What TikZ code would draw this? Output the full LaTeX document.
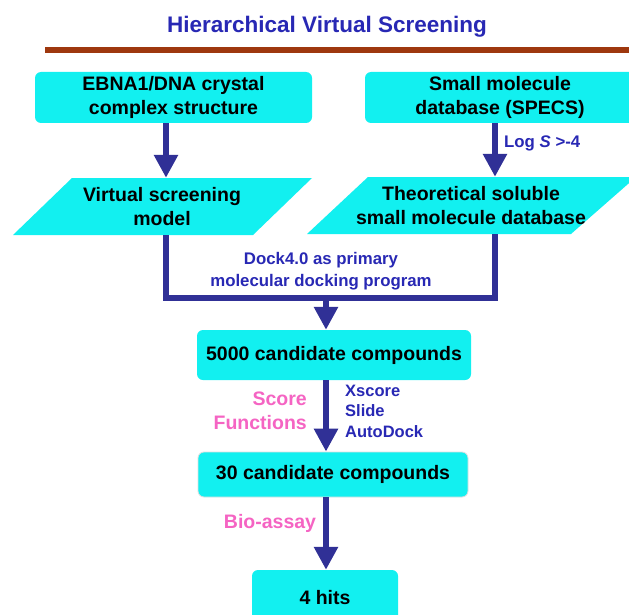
\documentclass[tikz,border=0pt]{standalone}
\usepackage{fontspec}
\setmainfont{Liberation Sans}
\usetikzlibrary{arrows.meta}

\definecolor{boxcyan}{RGB}{18,240,240}
\definecolor{flownavy}{RGB}{48,48,150}
\definecolor{labelblue}{RGB}{40,40,180}
\definecolor{rulebrown}{RGB}{158,56,14}
\definecolor{notepink}{RGB}{245,100,195}

\tikzset{
  x=1pt, y=-1pt,
  stagebox/.style={fill=boxcyan, rounded corners=6pt, inner sep=0pt,
    font=\fontsize{19.5}{24}\selectfont\bfseries, text=black, align=center},
  slantlabel/.style={inner sep=0pt, minimum height=57pt,
    font=\fontsize{19.5}{24}\selectfont\bfseries, text=black, align=center},
  flowline/.style={draw=flownavy, line width=6pt},
  flowarrow/.style={flowline, -{Triangle[length=23pt,width=23pt]}},
  bluenote/.style={inner sep=0pt, text=labelblue, font=\fontsize{16.8}{22}\selectfont\bfseries},
  pinknote/.style={inner sep=0pt, text=notepink, font=\fontsize{19.5}{24}\selectfont\bfseries},
}

\begin{document}
\begin{tikzpicture}
\useasboundingbox (0,0) rectangle (629,615);
\fill[white] (0,0) rectangle (629,615);

% heading and rule
\node[inner sep=0pt, text=labelblue, font=\fontsize{22.5}{27}\selectfont\bfseries]
  (title) at (327,27) {Hierarchical Virtual Screening};
\draw[rulebrown, line width=5.5pt] (45,50) -- (629,50);

% top inputs
\node[stagebox, minimum width=277pt, minimum height=51pt] (ebna) at (173.5,97.5)
  {EBNA1/DNA crystal\\complex structure};
\node[stagebox, minimum width=270pt, minimum height=51pt] (specs) at (500,97.5)
  {Small molecule\\database (SPECS)};

% slanted data shapes
\fill[boxcyan] (13,235) -- (72,178) -- (312,178) -- (253,235) -- cycle;
\node[slantlabel] (vsm) at (162,206.5) {Virtual screening\\model};
\fill[boxcyan] (307,234) -- (368,177) -- (636,177) -- (571,234) -- cycle;
\node[slantlabel] (tsdb) at (471,205.5) {Theoretical soluble\\small molecule database};

% candidate stages
\node[stagebox, minimum width=274pt, minimum height=50pt] (c5000) at (334,355)
  {5000 candidate compounds};
\node[stagebox, draw=gray!25, line width=0.8pt, minimum width=270pt, minimum height=45pt] (c30) at (333,474.5)
  {30 candidate compounds};
\node[stagebox, minimum width=146pt, minimum height=55pt] (hits) at (325,597.5)
  {4 hits};

% flow columns
\coordinate (colL) at (166,0);
\coordinate (colR) at (495,0);
\coordinate (colM) at (326,0);
\coordinate (join) at (326,298);

\draw[flowarrow] (ebna.south -| colL) -- (vsm.north -| colL);
\draw[flowarrow] (specs.south -| colR) -- (tsdb.north -| colR);
\draw[flowline] (vsm.south -| colL) -- (colL |- join) -- (colR |- join) -- (tsdb.south -| colR);
\draw[flowarrow] ([yshift=-3pt]join) -- (c5000.north -| colM);
\draw[flowarrow] (c5000.south -| colM) -- (c30.north -| colM);
\draw[flowarrow] (c30.south -| colM) -- (hits.north -| colM);

% annotations
\node[bluenote, anchor=west] (logs) at (504,143) {Log \textit{S} >-4};
\node[bluenote, align=center] (dock) at (321,271)
  {Dock4.0 as primary\\molecular docking program};
\node[pinknote, anchor=east, align=right] (score) at (307,411) {Score\\Functions};
\node[bluenote, anchor=west, align=left, font=\fontsize{16.5}{20.5}\selectfont\bfseries] (tools) at (345,411)
  {Xscore\\Slide\\AutoDock};
\node[pinknote] (bio) at (270,523) {Bio-assay};
\end{tikzpicture}
\end{document}
